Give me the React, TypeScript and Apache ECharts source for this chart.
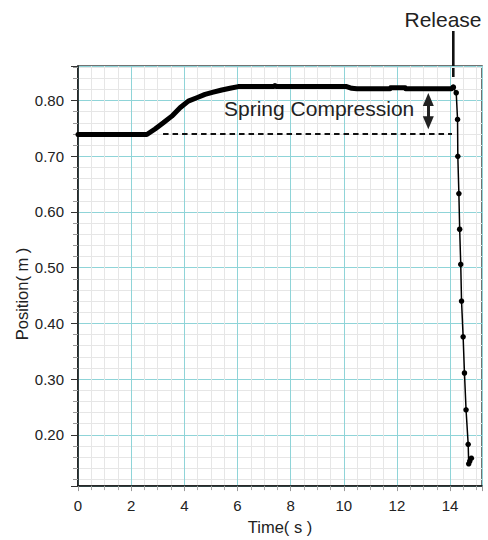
import React, { useEffect, useRef } from "react";
import * as echarts from "echarts";

// Pre-release (spring compression) part of the record: time (s), position (m)
const holdTimes = [0, 2.59, 2.9, 3.21, 3.53, 3.84, 4.15, 4.47, 4.78, 5.09, 5.41, 5.72, 6.03, 7.35, 7.41, 7.47, 10.11, 10.3, 10.49, 11.74, 11.76, 12.31, 12.33, 14.06, 14.12];
const holdPositions = [0.739, 0.739, 0.749, 0.76, 0.772, 0.787, 0.799, 0.805, 0.811, 0.815, 0.819, 0.822, 0.825, 0.825, 0.827, 0.825, 0.825, 0.822, 0.821, 0.821, 0.823, 0.823, 0.821, 0.821, 0.824];

// After release
const releaseTimes = [14.12, 14.23, 14.28, 14.29, 14.33, 14.36, 14.4, 14.43, 14.49, 14.54, 14.6, 14.68, 14.7, 14.74, 14.8];
const releasePositions = [0.824, 0.814, 0.766, 0.7, 0.633, 0.569, 0.506, 0.44, 0.376, 0.311, 0.245, 0.183, 0.148, 0.153, 0.158];

// Annotation anchors (data coordinates)
const baselinePosition = 0.741;
const baselineStart = 3.2;
const baselineEnd = 14.07;
const arrowTime = 13.18;
const arrowTop = 0.802;
const arrowBottom = 0.76;

const xTickLabels = ["0", "2", "4", "6", "8", "10", "12", "14"];
const yTickLabels = ["0.20", "0.30", "0.40", "0.50", "0.60", "0.70", "0.80"];

const FONT = "Liberation Sans, Arial, Helvetica, sans-serif";

export default function App() {
  const ref = useRef<HTMLDivElement>(null);

  useEffect(() => {
    if (!ref.current) return;
    const chart = echarts.init(ref.current, null, { renderer: "svg" });

    const hold = holdTimes.map((t, i) => [t, holdPositions[i]]);
    const rel = releaseTimes.map((t, i) => [t, releasePositions[i]]);

    chart.setOption({
      animation: false,
      backgroundColor: "#ffffff",
      grid: {
        left: 78,
        top: 66,
        width: 404,
        height: 426,
        show: true,
        borderColor: "#444444",
        borderWidth: 1.5,
        backgroundColor: "transparent",
      },
      xAxis: {
        type: "value",
        min: 0,
        max: 15.2,
        interval: 2,
        name: "Time( s )",
        nameLocation: "middle",
        nameGap: 31,
        nameTextStyle: { fontFamily: FONT, fontSize: 16.5, color: "#222" },
        axisLine: { show: true, lineStyle: { color: "#111", width: 1.5 } },
        axisTick: { show: true, length: 5, lineStyle: { color: "#999", width: 1 } },
        minorTick: { show: true, splitNumber: 4, length: 4, lineStyle: { color: "#aaa", width: 1 } },
        axisLabel: {
          margin: 12,
          fontFamily: FONT,
          fontSize: 15,
          color: "#222",
          showMaxLabel: false,
          formatter: (v: number) => {
            const s = String(Math.round(v));
            return Math.abs(v - Math.round(v)) < 1e-6 && xTickLabels.includes(s) ? s : "";
          },
        },
        splitLine: { show: true, lineStyle: { color: "#8fd4d8", width: 1 } },
        minorSplitLine: { show: true, lineStyle: { color: "#e6e6e6", width: 1 } },
      },
      yAxis: {
        type: "value",
        min: 0.108,
        max: 0.862,
        splitNumber: 7,
        axisLine: { show: true, lineStyle: { color: "#111", width: 1.5 } },
        axisTick: { show: true, length: 7, lineStyle: { color: "#333", width: 1 } },
        minorTick: { show: true, splitNumber: 5, length: 5, lineStyle: { color: "#999", width: 1 } },
        axisLabel: {
          margin: 14,
          fontFamily: FONT,
          fontSize: 15,
          color: "#222",
          showMinLabel: false,
          showMaxLabel: false,
          formatter: (v: number) => {
            const s = v.toFixed(2);
            return yTickLabels.includes(s) && Math.abs(v * 10 - Math.round(v * 10)) < 1e-6 ? s : "";
          },
        },
        splitLine: { show: true, lineStyle: { color: "#8fd4d8", width: 1 } },
        minorSplitLine: { show: true, lineStyle: { color: "#e6e6e6", width: 1 } },
      },
      series: [
        {
          type: "line",
          data: hold,
          symbol: "none",
          lineStyle: { color: "#000", width: 5, cap: "round", join: "round" },
          silent: true,
          z: 5,
          markLine: {
            silent: true,
            animation: false,
            symbol: "none",
            label: { show: false },
            emphasis: { disabled: true },
            data: [
              [
                { coord: [baselineStart, baselinePosition] },
                { coord: [baselineEnd, baselinePosition] },
              ],
              [
                {
                  coord: [arrowTime, arrowTop],
                  lineStyle: { type: "solid", width: 3, color: "#222" },
                },
                { coord: [arrowTime, arrowBottom] },
              ],
            ],
            lineStyle: { color: "#111", width: 2.2, type: [5.5, 4] },
          },
          markPoint: {
            silent: true,
            animation: false,
            label: { show: false },
            emphasis: { disabled: true },
            itemStyle: { color: "#222" },
            data: [
              { coord: [arrowTime, arrowTop], symbol: "triangle", symbolSize: [11, 13] },
              { coord: [arrowTime, arrowBottom], symbol: "triangle", symbolSize: [11, 13], symbolRotate: 180 },
            ],
          },
        },
        {
          type: "line",
          data: rel,
          symbol: "circle",
          symbolSize: 5.5,
          showSymbol: true,
          itemStyle: { color: "#000" },
          lineStyle: { color: "#000", width: 1.5 },
          silent: true,
          z: 6,
        },
      ],
      graphic: [
        {
          type: "text",
          x: 443,
          y: 19.5,
          style: {
            text: "Release",
            font: `21px ${FONT}`,
            fill: "#222",
            align: "center",
            verticalAlign: "middle",
          },
        },
        {
          type: "line",
          shape: { x1: 453.3, y1: 31, x2: 453.3, y2: 77 },
          style: { stroke: "#111", lineWidth: 2.6 },
        },
        {
          type: "text",
          x: 224,
          y: 108.5,
          style: {
            text: "Spring Compression",
            font: `21px ${FONT}`,
            fill: "#222",
            align: "left",
            verticalAlign: "middle",
          },
          z: 10,
        },
        {
          type: "text",
          x: 22,
          y: 294,
          rotation: Math.PI / 2,
          style: {
            text: "Position( m )",
            font: `16.5px ${FONT}`,
            fill: "#222",
            align: "center",
            verticalAlign: "middle",
          },
        },
      ],
    });

    return () => chart.dispose();
  }, []);

  return (
    <div
      ref={ref}
      style={{ position: "fixed", left: 0, top: 0, width: 488, height: 540 }}
    />
  );
}
